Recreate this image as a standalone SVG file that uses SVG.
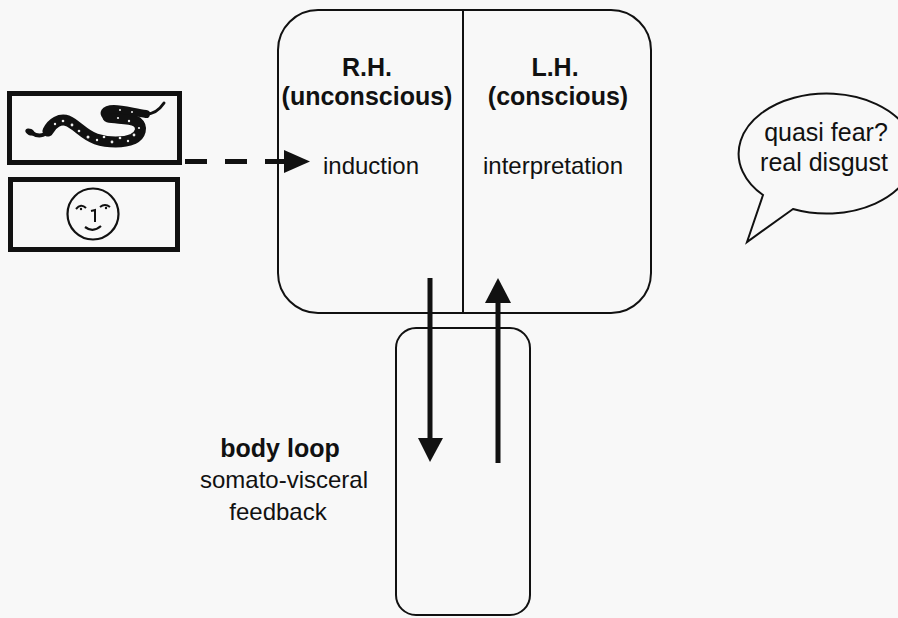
<svg xmlns="http://www.w3.org/2000/svg" width="898" height="618" viewBox="0 0 898 618">
  <defs>
    <style>
      .box { fill: none; stroke: #111; stroke-width: 2; }
      .frame { fill: none; stroke: #111; stroke-width: 5; }
      .t { font-family: "Liberation Sans", Arial, sans-serif; font-size: 24px; fill: #111; text-anchor: middle; }
      .b { font-weight: bold; font-size: 25px; }
      .big { font-size: 25px; }
      .shaft { stroke: #111; stroke-width: 5; fill: none; }
      .head { fill: #111; }
      .body { fill: none; stroke: #111; stroke-linecap: round; stroke-linejoin: round; }
    </style>
  </defs>

  <rect width="898" height="618" fill="#f8f8f8"/>

  <!-- stimulus picture: snake -->
  <g id="snake-card">
    <rect class="frame" x="9.5" y="93.5" width="170" height="69"/>
    <path class="body" stroke-width="4" d="M32,133 C38,137 44,136 48,131"/>
    <path class="body" stroke-width="11" d="M48,131 C52,123 60,118 68,121 C77,125 84,135 96,139 C108,143 124,143 133,139 C141,135 143,127 137,122 C130,117 116,119 108,117"/>
    <path class="body" stroke-width="8" d="M108,117 C102,114 104,109 114,109 C124,109 136,113 146,114"/>
    <path class="body" stroke-width="3" d="M146,114 C154,114 160,109 164,103"/>
    <ellipse cx="30" cy="132" rx="5" ry="3.2" fill="#111" transform="rotate(25 30 132)"/>
    <g fill="#eee">
      <circle cx="55" cy="124" r="1.2"/>
      <circle cx="63" cy="121" r="1.3"/>
      <circle cx="72" cy="125" r="1.4"/>
      <circle cx="79" cy="131" r="1.3"/>
      <circle cx="88" cy="137" r="1.5"/>
      <circle cx="97" cy="140" r="1.2"/>
      <circle cx="104" cy="137" r="1.3"/>
      <circle cx="112" cy="142" r="1.4"/>
      <circle cx="120" cy="138" r="1.3"/>
      <circle cx="128" cy="141" r="1.2"/>
      <circle cx="134" cy="135" r="1.4"/>
      <circle cx="139" cy="128" r="1.1"/>
      <circle cx="129" cy="121" r="1.2"/>
      <circle cx="118" cy="118" r="1.1"/>
      <circle cx="120" cy="110" r="1"/>
      <circle cx="132" cy="112" r="1"/>
    </g>
  </g>

  <!-- neutral face card -->
  <g id="face-card">
    <rect class="frame" x="10.5" y="179.5" width="167" height="70"/>
    <circle cx="93" cy="214" r="25.5" fill="none" stroke="#111" stroke-width="2.2"/>
    <path d="M76,209 Q81,203 86,208" fill="none" stroke="#111" stroke-width="2"/>
    <circle cx="81" cy="209" r="1.2" fill="#111"/>
    <path d="M100,207 Q105,203 110,207" fill="none" stroke="#111" stroke-width="2"/>
    <circle cx="106" cy="208" r="1.2" fill="#111"/>
    <path d="M91,211 L95,210 L95,222" fill="none" stroke="#111" stroke-width="2"/>
    <path d="M85,227 Q93,233 101,226" fill="none" stroke="#111" stroke-width="2.2"/>
  </g>

  <!-- hemispheres -->
  <g id="hemispheres">
    <rect class="box" x="278" y="10" width="373" height="303" rx="40" ry="40"/>
    <line class="box" x1="463" y1="10" x2="463" y2="313"/>
  </g>

  <g id="right-hemisphere">
    <text class="t b" x="367" y="76">R.H.</text>
    <text class="t b" x="367" y="105">(unconscious)</text>
    <text class="t" x="371" y="174">induction</text>
  </g>

  <g id="left-hemisphere">
    <text class="t b" x="555" y="76">L.H.</text>
    <text class="t b" x="558" y="105">(conscious)</text>
    <text class="t" x="553" y="174">interpretation</text>
  </g>

  <!-- body -->
  <g id="body">
    <rect class="box" x="396" y="328" width="134" height="287" rx="20" ry="20" stroke-width="2.5"/>
  </g>

  <g id="body-loop-label">
    <text class="t b" x="280" y="457">body loop</text>
    <text class="t" x="284" y="488">somato-visceral</text>
    <text class="t" x="278" y="520">feedback</text>
  </g>

  <!-- thought bubble -->
  <g id="bubble">
    <path d="M763,195 A88,60 0 1 1 793,209 L747,242 Z" fill="#f8f8f8" stroke="#111" stroke-width="2"/>
    <text class="t big" x="826" y="141">quasi fear?</text>
    <text class="t big" x="824" y="171">real disgust</text>
  </g>

  <!-- connectors -->
  <g id="connectors">
    <line class="shaft" x1="185" y1="161.5" x2="287" y2="161.5" stroke-dasharray="22 18" stroke-width="6"/>
    <polygon class="head" points="284,150 310,161.5 284,173"/>

    <line class="shaft" x1="430" y1="278" x2="430" y2="440"/>
    <polygon class="head" points="418,438 443,438 430,462"/>

    <line class="shaft" x1="498" y1="463" x2="498" y2="300"/>
    <polygon class="head" points="485,303 511,303 498,278"/>
  </g>
</svg>
